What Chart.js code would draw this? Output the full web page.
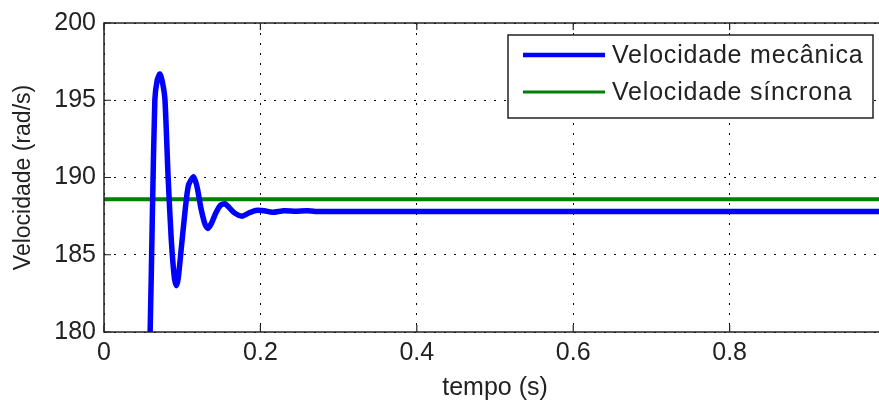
<!DOCTYPE html>
<html>
<head>
<meta charset="utf-8">
<script src="https://cdn.jsdelivr.net/npm/chart.js@4"></script>
<style>
  html, body { margin: 0; padding: 0; background: #fff; overflow: hidden; }
  #wrap { width: 899px; height: 405px; }
</style>
</head>
<body>
<div id="wrap"><canvas id="speedChart" width="899" height="405"></canvas></div>
<script>
// tempo (s) e velocidade mecânica (rad/s)
var tempo = [0.050, 0.059, 0.062, 0.065, 0.068, 0.0715, 0.075, 0.078, 0.082, 0.086,
             0.090, 0.0925, 0.095, 0.099, 0.104, 0.108, 0.1145, 0.119, 0.124,
             0.129, 0.1325, 0.137, 0.143, 0.149, 0.155, 0.161, 0.167, 0.1765, 0.185,
             0.194, 0.205, 0.215, 0.23, 0.245, 0.26, 0.27, 1.0];
var velMecanica = [165, 180, 188, 195, 196.3, 196.7, 196.1, 195, 190, 186,
                   183.5, 183.0, 183.5, 185.5, 188.0, 189.5, 190.05, 189.4, 188.0,
                   187.0, 186.7, 187.0, 187.7, 188.2, 188.3, 188.0, 187.7, 187.5, 187.7,
                   187.87, 187.85, 187.75, 187.85, 187.82, 187.85, 187.8, 187.8];
var tempoSinc = [0, 1];
var velSincrona = [188.6, 188.6];
var xTicks = [0, 0.2, 0.4, 0.6, 0.8, 1];
var yTicks = [180, 185, 190, 195, 200];

var FONT = "'Liberation Sans', Arial, sans-serif";
var TXT = '#222';

function pts(xs, ys) {
    return xs.map(function (x, i) { return { x: x, y: ys[i] }; });
}

// moldura, marcas internas e legenda com borda (estilo MATLAB)
var matlabFrame = {
    id: 'matlabFrame',
    afterDatasetsDraw: function (chart) {
        var ctx = chart.ctx, a = chart.chartArea;
        var xs = chart.scales.x, ys = chart.scales.y;
        ctx.save();
        ctx.strokeStyle = '#222';
        ctx.lineWidth = 1.5;
        ctx.strokeRect(a.left, a.top, a.right - a.left, a.bottom - a.top);
        ctx.lineWidth = 1.2;
        ctx.beginPath();
        xTicks.forEach(function (v) {
            var px = xs.getPixelForValue(v);
            ctx.moveTo(px, a.bottom); ctx.lineTo(px, a.bottom - 7);
            ctx.moveTo(px, a.top); ctx.lineTo(px, a.top + 7);
        });
        yTicks.forEach(function (v) {
            var py = ys.getPixelForValue(v);
            ctx.moveTo(a.left, py); ctx.lineTo(a.left + 7, py);
            ctx.moveTo(a.right, py); ctx.lineTo(a.right - 7, py);
        });
        ctx.stroke();

        // legenda
        var bx = 508, by = 35, bw = 365, bh = 83;
        ctx.fillStyle = '#fff';
        ctx.fillRect(bx, by, bw, bh);
        ctx.lineWidth = 1.5;
        ctx.strokeStyle = '#222';
        ctx.strokeRect(bx, by, bw, bh);
        ctx.font = '25px ' + FONT;
        ctx.letterSpacing = '0.8px';
        ctx.textBaseline = 'middle';
        chart.data.datasets.forEach(function (ds, i) {
            var y = by + 20 + i * 37;
            ctx.strokeStyle = ds.borderColor;
            ctx.lineWidth = ds.borderWidth - 1;
            ctx.beginPath();
            ctx.moveTo(bx + 15, y); ctx.lineTo(bx + 97, y);
            ctx.stroke();
            ctx.fillStyle = TXT;
            ctx.fillText(ds.label, bx + 104, y + 1);
        });
        ctx.restore();
    }
};

var speedChart = new Chart(document.getElementById('speedChart'), {
    type: 'line',
    data: {
        datasets: [
            {
                label: 'Velocidade mecânica',
                data: pts(tempo, velMecanica),
                borderColor: '#0000ff',
                borderWidth: 5.5,
                pointRadius: 0,
                tension: 0.2,
                fill: false
            },
            {
                label: 'Velocidade síncrona',
                data: pts(tempoSinc, velSincrona),
                borderColor: '#008000',
                borderWidth: 4,
                pointRadius: 0,
                fill: false
            }
        ]
    },
    options: {
        responsive: false,
        animation: false,
        layout: { padding: { left: 0, top: 20, right: 0, bottom: 0 } },
        plugins: {
            legend: { display: false },
            tooltip: { enabled: false }
        },
        scales: {
            x: {
                type: 'linear',
                min: 0,
                max: 1,
                afterBuildTicks: function (s) { s.ticks = xTicks.map(function (v) { return { value: v }; }); },
                afterFit: function (s) { s.height = 73; },
                ticks: {
                    color: TXT,
                    font: { family: FONT, size: 25 },
                    padding: 6,
                    maxRotation: 0,
                    autoSkip: false,
                    callback: function (v) { return String(v); }
                },
                grid: { color: '#000', lineWidth: 1, drawTicks: false },
                border: { display: false, dash: [2, 8] },
                title: {
                    display: true,
                    text: 'tempo (s)',
                    color: TXT,
                    font: { family: FONT, size: 25 },
                    padding: { top: 0, bottom: 2 }
                }
            },
            y: {
                min: 180,
                max: 200,
                afterBuildTicks: function (s) { s.ticks = yTicks.map(function (v) { return { value: v }; }); },
                afterFit: function (s) { s.width = 104; },
                ticks: {
                    color: TXT,
                    font: { family: FONT, size: 25 },
                    padding: 8
                },
                grid: { color: '#000', lineWidth: 1, drawTicks: false },
                border: { display: false, dash: [2, 8] },
                title: {
                    display: true,
                    text: 'Velocidade (rad/s)',
                    color: TXT,
                    font: { family: FONT, size: 23 },
                    padding: { top: 10, bottom: 0 }
                }
            }
        }
    },
    plugins: [matlabFrame]
});
</script>
</body>
</html>
